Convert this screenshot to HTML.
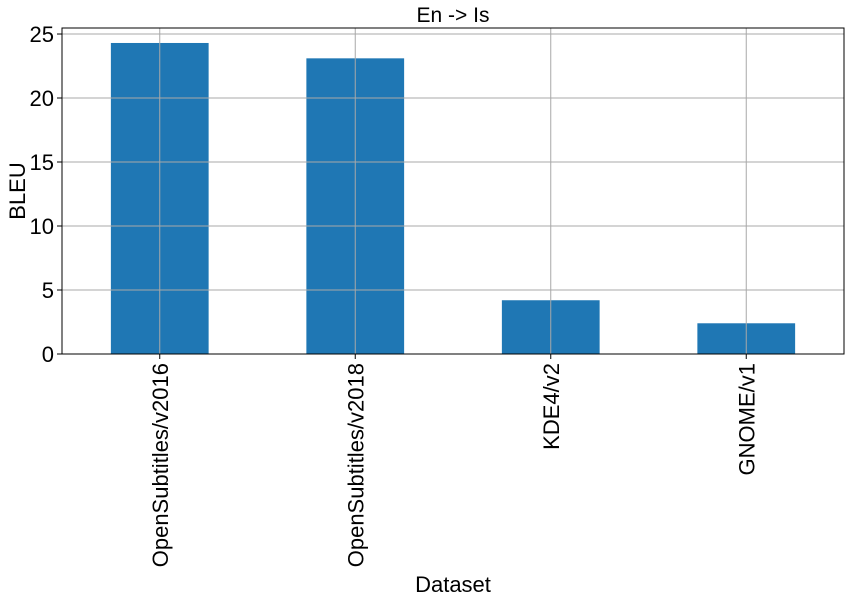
<!DOCTYPE html>
<html><head><meta charset="utf-8"><style>
html,body{margin:0;padding:0;background:#fff;}
svg{display:block;font-family:"Liberation Sans","DejaVu Sans",sans-serif;}
</style></head><body>
<svg id="chart" width="851" height="602"></svg>
<script>
const categories = ["OpenSubtitles/v2016","OpenSubtitles/v2018","KDE4/v2","GNOME/v1"];
const bleuValues = [24.3, 23.1, 4.2, 2.4];
const yTicks = [0,5,10,15,20,25];
const chartTitle = "En -> Is";

const NS="http://www.w3.org/2000/svg";
const svg=document.getElementById('chart');
const L=62,R=844,T=28,B=354,yMax=25.47;
const y=v=>B-(v/yMax)*(B-T);
const band=(R-L)/categories.length;
const x=i=>L+band*(i+0.5);
function mk(tag,attrs,parent){const e=document.createElementNS(NS,tag);for(const k in attrs)e.setAttribute(k,attrs[k]);(parent||svg).appendChild(e);return e;}

const bars=mk('g',{});


categories.forEach((c,i)=>{
  const r=mk('rect',{x:x(i)-band*0.25,y:y(bleuValues[i]),width:band*0.5,height:B-y(bleuValues[i]),fill:'#1f77b4'},bars);
  
  
});
const grid=mk('g',{stroke:'#a8a8a8','stroke-width':1});


yTicks.forEach(t=>{mk('line',{x1:L,x2:R,y1:y(t),y2:y(t)},grid);});
categories.forEach((c,i)=>{mk('line',{x1:x(i),x2:x(i),y1:T,y2:B},grid);});

const frame=mk('rect',{x:L,y:T,width:R-L,height:B-T,fill:'none',stroke:'#000','stroke-width':1});



const yax=mk('g',{});


yTicks.forEach(t=>{
  mk('line',{x1:L-5,x2:L,y1:y(t),y2:y(t),stroke:'#000'},yax);
  const tx=mk('text',{x:L-8,y:y(t)+8,'text-anchor':'end','font-size':22},yax);
  tx.textContent=t;
  
  
});
const xax=mk('g',{});


categories.forEach((c,i)=>{
  mk('line',{x1:x(i),x2:x(i),y1:B,y2:B+5,stroke:'#000'},xax);
  const tx=mk('text',{x:0,y:0,'text-anchor':'end','font-size':22,transform:`translate(${x(i)+8},${B+9}) rotate(-90)`},xax);
  tx.textContent=c;
  
  
});
const yt=mk('text',{x:0,y:0,'text-anchor':'middle','font-size':22,transform:`translate(25,${(T+B)/2}) rotate(-90)`});
yt.textContent='BLEU';


const xt=mk('text',{x:(L+R)/2,y:592,'text-anchor':'middle','font-size':22});
xt.textContent='Dataset';


const tt=mk('text',{x:(L+R)/2,y:22,'text-anchor':'middle','font-size':21});
tt.textContent=chartTitle;


</script>
</body></html>
